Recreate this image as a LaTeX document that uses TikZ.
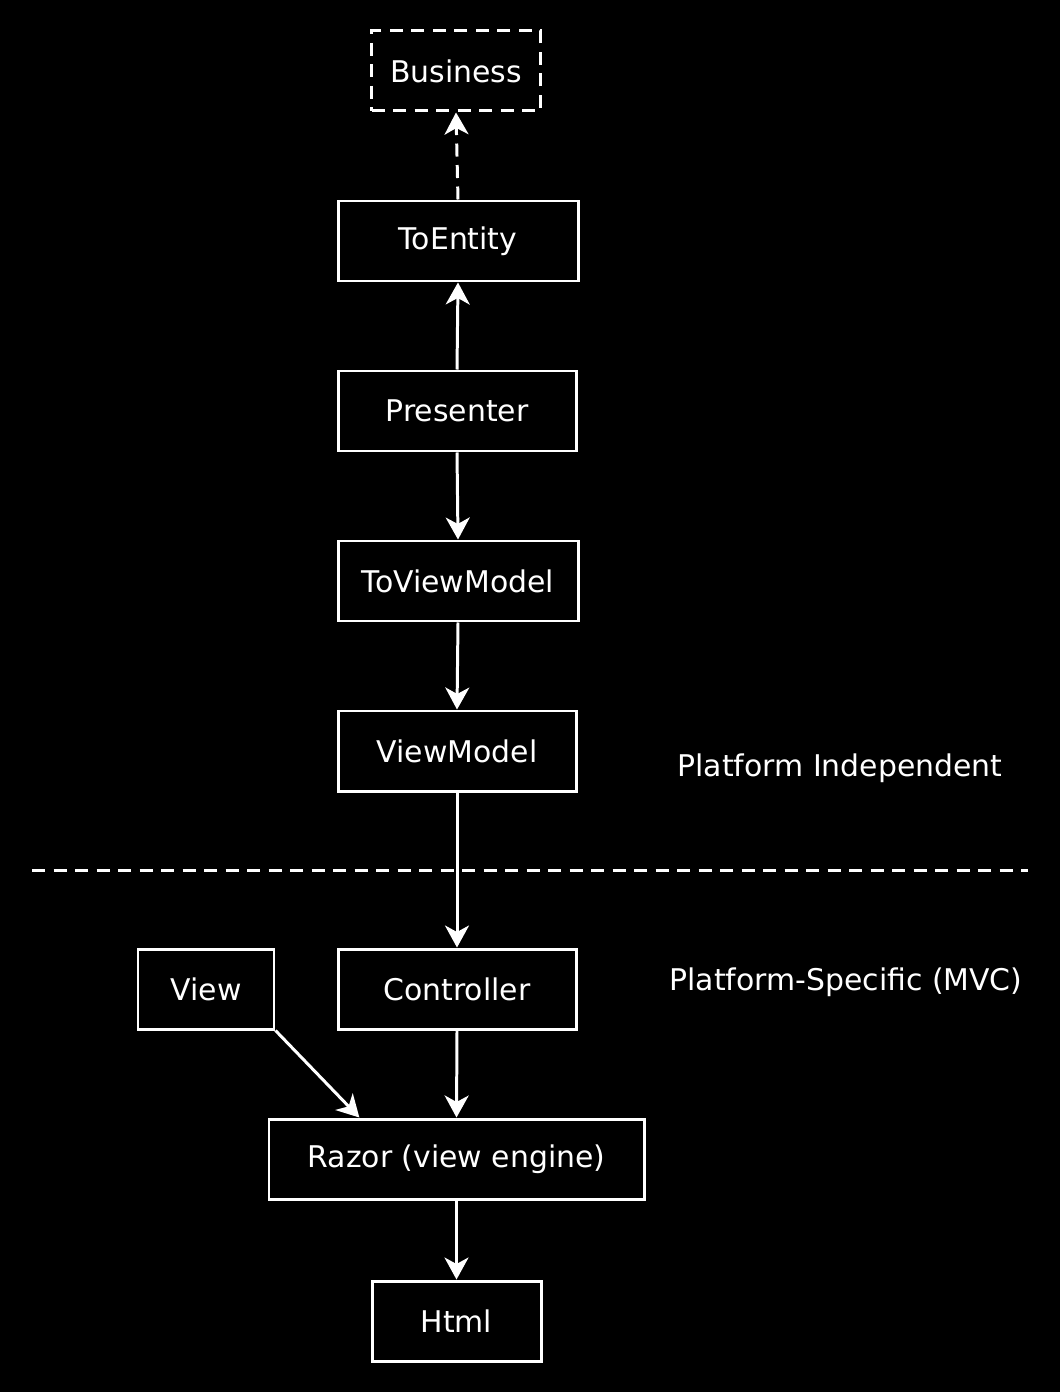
\documentclass[tikz,border=0pt]{standalone}
\usepackage{fontspec}
\setmainfont{DejaVu Sans}
\usetikzlibrary{arrows.meta,calc}

\begin{document}
\begin{tikzpicture}[
    every node/.style={text=white, font=\fontsize{17}{20}\selectfont},
    box/.style={draw=white, line width=1.7pt, minimum height=1.6cm, inner sep=0pt},
    wire/.style={draw=white, line width=1.7pt, -{Stealth[length=0.44cm, width=0.48cm, inset=0.13cm]}},
    dashline/.style={dash pattern=on 0.26cm off 0.17cm}
]
    \fill[black] (0,0) rectangle (21.2,-27.84);
    \useasboundingbox (0,0) rectangle (21.2,-27.84);

    \node[box, dashline, minimum width=3.38cm] (business) at (9.12,-1.42) {Business};
    \node[box, minimum width=4.8cm] (toentity) at (9.16,-4.82) {ToEntity};
    \node[box, minimum width=4.76cm] (presenter) at (9.14,-8.22) {Presenter};
    \node[box, minimum width=4.8cm] (toviewmodel) at (9.16,-11.62) {ToViewModel};
    \node[box, minimum width=4.76cm] (viewmodel) at (9.14,-15.02) {ViewModel};
    \node[box, minimum width=4.76cm] (controller) at (9.14,-19.78) {Controller};
    \node[box, minimum width=2.72cm] (view) at (4.12,-19.78) {View};
    \node[box, minimum width=7.5cm] (razor) at (9.13,-23.18) {Razor (view engine)};
    \node[box, minimum width=3.38cm] (html) at (9.13,-26.42) {Html};

    \node (independent) at (16.8,-15.36) {Platform Independent};
    \node (specific) at (16.92,-19.64) {Platform-Specific (MVC)};

    \coordinate (divleft) at (0.64,-17.4);
    \coordinate (divright) at (20.56,-17.4);
    \draw[white, line width=1.7pt, dashline] (divleft) -- (divright);

    \draw[wire, dashline] (toentity.north) -- (business.south);
    \draw[wire] (presenter.north) -- (toentity.south);
    \draw[wire] (presenter.south) -- (toviewmodel.north);
    \draw[wire] (toviewmodel.south) -- (viewmodel.north);
    \draw[wire] (viewmodel.south) -- (controller.north);
    \draw[wire] (controller.south) -- (razor.north);
    \draw[wire] (view.south east) -- ($(razor.north west)!0.243!(razor.north east)$);
    \draw[wire] (razor.south) -- (html.north);
\end{tikzpicture}
\end{document}
